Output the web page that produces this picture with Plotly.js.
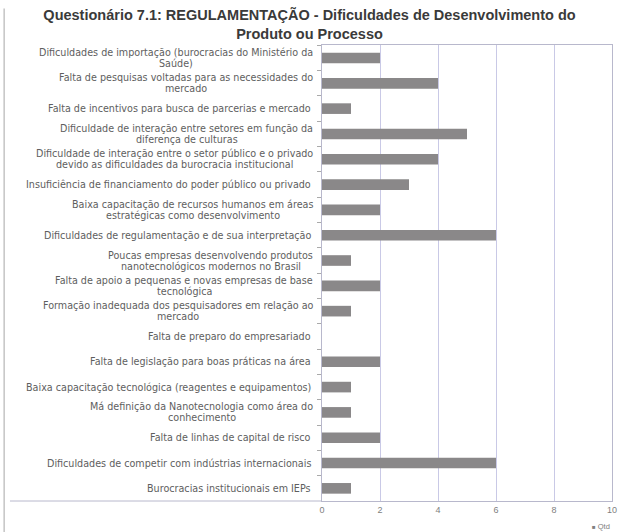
<!DOCTYPE html>
<html><head><meta charset="utf-8">
<script src="https://cdn.plot.ly/plotly-3.0.1.min.js"></script>
<style>html,body{margin:0;padding:0;background:#fff;}#chart{width:619px;height:532px;}</style>
</head><body><div id="chart"></div>
<script>
const categories = [
  "Dificuldades de importação (burocracias do Ministério da<br>Saúde)",
  "Falta de pesquisas voltadas para as necessidades do<br>mercado",
  "Falta de incentivos para busca de parcerias e mercado",
  "Dificuldade de interação entre setores em função da<br>diferença de culturas",
  "Dificuldade de interação entre o setor público e o privado<br>devido as dificuldades da burocracia institucional",
  "Insuficiência de financiamento do poder público ou privado",
  "Baixa capacitação de recursos humanos em áreas<br>estratégicas como desenvolvimento",
  "Dificuldades de regulamentação e de sua interpretação",
  "Poucas empresas desenvolvendo produtos<br>nanotecnológicos modernos no Brasil",
  "Falta de apoio a pequenas e novas empresas de base<br>tecnológica",
  "Formação inadequada dos pesquisadores em relação ao<br>mercado",
  "Falta de preparo do empresariado",
  "Falta de legislação para boas práticas na área",
  "Baixa capacitação tecnológica (reagentes e equipamentos)",
  "Má definição da Nanotecnologia como área do<br>conhecimento",
  "Falta de linhas de capital de risco",
  "Dificuldades de competir com indústrias internacionais",
  "Burocracias institucionais em IEPs"
];
const qtd = [2, 4, 1, 5, 4, 3, 2, 6, 1, 2, 1, 0, 2, 1, 1, 2, 6, 1];
const xTicks = [0, 2, 4, 6, 8, 10];
const seriesName = "Qtd";
const titleText = "Questionário 7.1: REGULAMENTAÇÃO - Dificuldades de Desenvolvimento do<br>Produto ou Processo";

const ids = categories.map((c, i) => "c" + i);

const trace = {
  type: "bar",
  orientation: "h",
  x: qtd,
  y: ids,
  name: seriesName,
  width: 0.42,
  marker: {color: "#8a8889", line: {color: "#707070", width: 0}},
  hoverinfo: "x",
  showlegend: false
};

const labelFont = {family: "DejaVu Sans, sans-serif", size: 9.6, color: "#5e5e5e"};
const lineGap = 11;
const annotations = [];
categories.forEach((c, i) => {
  const lines = c.split("<br>");
  lines.forEach((ln, k) => {
    annotations.push({
      xref: "paper", yref: "y", x: -0.03, y: ids[i],
      xanchor: lines.length > 1 ? "center" : "right", yanchor: "middle",
      text: ln, showarrow: false, font: labelFont,
      yshift: ((lines.length - 1) / 2 - k) * lineGap
    });
  });
});
// legend drawn as a small note under the x axis
annotations.push({
  xref: "paper", yref: "paper", x: 1.0, y: -0.056, xanchor: "right", yanchor: "middle",
  text: "<span style='font-size:6px'>■</span> " + seriesName, showarrow: false,
  font: {family: "Liberation Sans, Arial, sans-serif", size: 7.5, color: "#808080"}
});

const layout = {
  width: 619, height: 532,
  margin: {l: 322, r: 7, t: 45, b: 31, pad: 0},
  paper_bgcolor: "#fff", plot_bgcolor: "#fff",
  title: {
    text: "<b>" + titleText + "</b>",
    font: {family: "Liberation Sans, Arial, sans-serif", size: 14.5, color: "#3a3a3a"},
    x: 0.5, xref: "container", xanchor: "center",
    y: 0.962, yanchor: "top"
  },
  xaxis: {
    range: [0, 10], tickvals: xTicks, ticktext: xTicks.map(String),
    showgrid: true, gridcolor: "#c9c9e6", gridwidth: 1,
    zeroline: false, showline: true, linecolor: "#b8b8cc", mirror: true,
    ticks: "", tickfont: {family: "Liberation Sans, Arial, sans-serif", size: 9, color: "#808080"},
    fixedrange: true
  },
  yaxis: {
    type: "category", categoryorder: "array", categoryarray: ids,
    autorange: "reversed", showticklabels: false,
    ticks: "outside", tickson: "boundaries", ticklen: 4, tickcolor: "#aaa",
    showgrid: false, showline: true, linecolor: "#b8b8cc", mirror: true,
    zeroline: false, fixedrange: true
  },
  showlegend: false,
  annotations: annotations,
  shapes: [
    {type: "line", xref: "paper", yref: "paper", x0: -1.076, x1: 0, y0: 0, y1: 0,
     line: {color: "#b8b8cc", width: 1}},
    {type: "line", xref: "paper", yref: "paper", x0: -1.096, x1: -1.096, y0: -0.07, y1: 1.08,
     line: {color: "#c4c4c4", width: 1.5}}
  ]
};

Plotly.newPlot("chart", [trace], layout, {displayModeBar: false, staticPlot: true}).then(gd => {
  // centre the lines of each two-line label on its widest line, right-aligned at the axis
  const plotW = gd._fullLayout._size.w;
  const rightPx = -0.03 * plotW;
  const nodes = gd.querySelectorAll(".annotation");
  const widths = [];
  nodes.forEach(n => { const t = n.querySelector("text"); widths.push(t ? t.getBBox().width : 0); });
  const updates = {};
  let idx = 0;
  categories.forEach((c, i) => {
    const lines = c.split("<br>");
    if (lines.length > 1) {
      const w = Math.max(...lines.map((_, k) => widths[idx + k]));
      const centre = (rightPx - w / 2) / plotW;
      lines.forEach((_, k) => { updates["annotations[" + (idx + k) + "].x"] = centre; });
    }
    idx += lines.length;
  });
  return Plotly.relayout(gd, updates);
});
</script>
</body></html>
